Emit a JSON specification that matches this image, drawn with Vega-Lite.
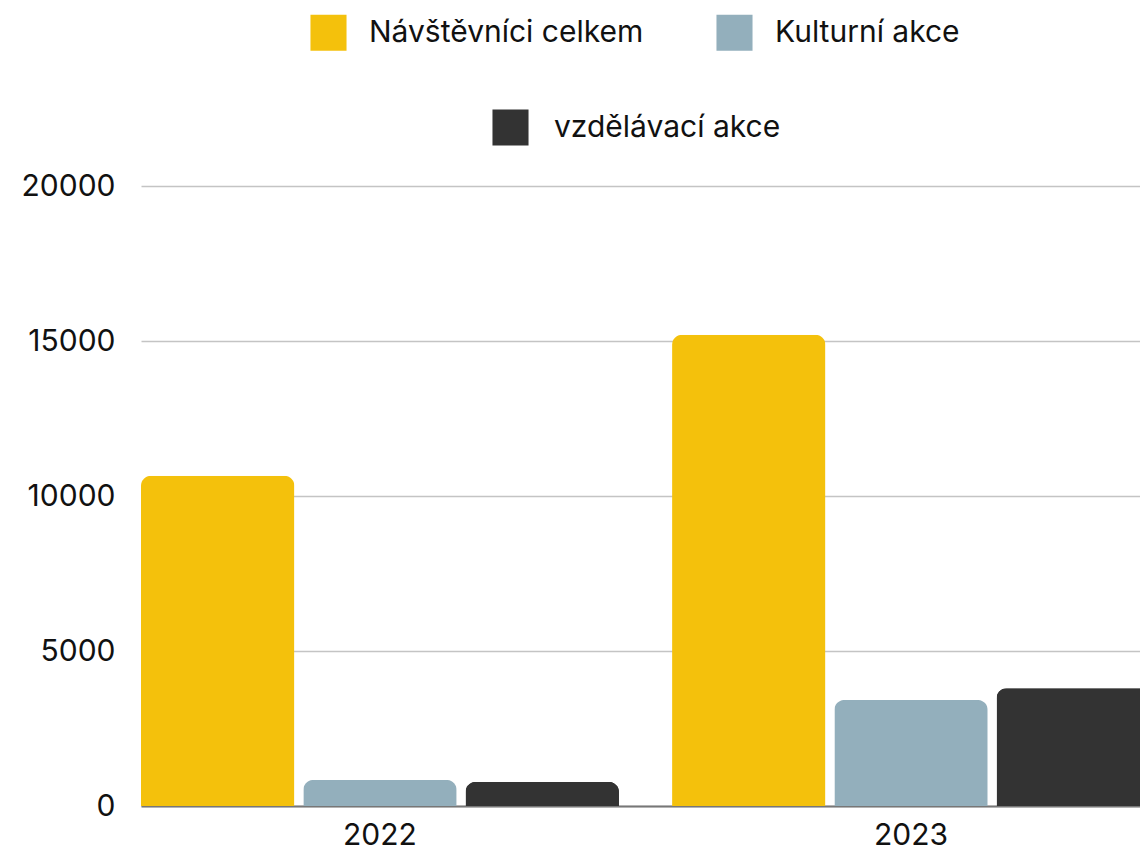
{
  "$schema": "https://vega.github.io/schema/vega-lite/v6.json",
  "autosize": "none",
  "padding": {"left": 141, "top": 186, "right": 0, "bottom": 44},
  "width": 999,
  "height": 620,
  "background": "white",
  "config": {
    "font": "Inter",
    "view": {"stroke": null}
  },
  "data": {
    "values": [
      {"year": "2022", "series": "Návštěvníci celkem", "value": 10650},
      {"year": "2022", "series": "Kulturní akce", "value": 840},
      {"year": "2022", "series": "vzdělávací akce", "value": 775},
      {"year": "2023", "series": "Návštěvníci celkem", "value": 15200},
      {"year": "2023", "series": "Kulturní akce", "value": 3420},
      {"year": "2023", "series": "vzdělávací akce", "value": 3800}
    ]
  },
  "encoding": {
    "x": {
      "field": "year", "type": "nominal",
      "scale": {"range": [0, 1009], "paddingInner": 0.1, "paddingOuter": 0},
      "axis": {
        "title": null, "labelAngle": 0, "ticks": false,
        "labelFontSize": 30, "labelColor": "#111", "labelPadding": 14,
        "domainColor": "#777", "domainWidth": 2
      }
    },
    "xOffset": {
      "field": "series", "type": "nominal",
      "sort": ["Návštěvníci celkem", "Kulturní akce", "vzdělávací akce"],
      "scale": {"domain": ["Návštěvníci celkem", "Kulturní akce", "vzdělávací akce"], "paddingInner": 0.055, "paddingOuter": 0}
    },
    "y": {
      "field": "value", "type": "quantitative",
      "scale": {"domain": [0, 20000], "nice": false},
      "axis": {
        "title": null, "values": [0, 5000, 10000, 15000, 20000], "format": "d",
        "domain": false, "ticks": false, "labelFontSize": 30, "labelColor": "#111",
        "labelPadding": 26, "gridColor": "#c4c4c4", "gridWidth": 1.5
      }
    }
  },
  "layer": [
    {
      "mark": {"type": "bar", "cornerRadiusTopLeft": 10, "cornerRadiusTopRight": 10},
      "encoding": {
        "color": {
          "field": "series", "type": "nominal",
          "scale": {
            "domain": ["Návštěvníci celkem", "Kulturní akce", "vzdělávací akce"],
            "range": ["#F4C10C", "#93AFBC", "#333333"]
          },
          "legend": {
            "title": null, "orient": "none", "legendX": 169, "legendY": -172,
            "values": ["Návštěvníci celkem", "Kulturní akce"],
            "direction": "horizontal",
            "symbolType": "square", "symbolSize": 1300, "symbolStrokeWidth": 0,
            "labelFontSize": 30, "labelColor": "#111", "labelOffset": 22,
            "columnPadding": 72, "labelLimit": 400
          }
        }
      }
    },
    {
      "transform": [{"filter": "datum.series === 'vzdělávací akce'"}],
      "mark": {"type": "bar", "color": "#333333", "cornerRadiusTopLeft": 10, "cornerRadiusTopRight": 10},
      "encoding": {
        "opacity": {
          "field": "series", "type": "nominal",
          "scale": {"domain": ["vzdělávací akce"], "range": [1, 1]},
          "legend": {
            "title": null, "orient": "none", "legendX": 351, "legendY": -77,
            "direction": "horizontal",
            "symbolType": "square", "symbolSize": 1300, "symbolStrokeWidth": 0,
            "symbolFillColor": "#333333",
            "labelFontSize": 30, "labelColor": "#111", "labelOffset": 25,
            "labelLimit": 400
          }
        }
      }
    }
  ]
}
